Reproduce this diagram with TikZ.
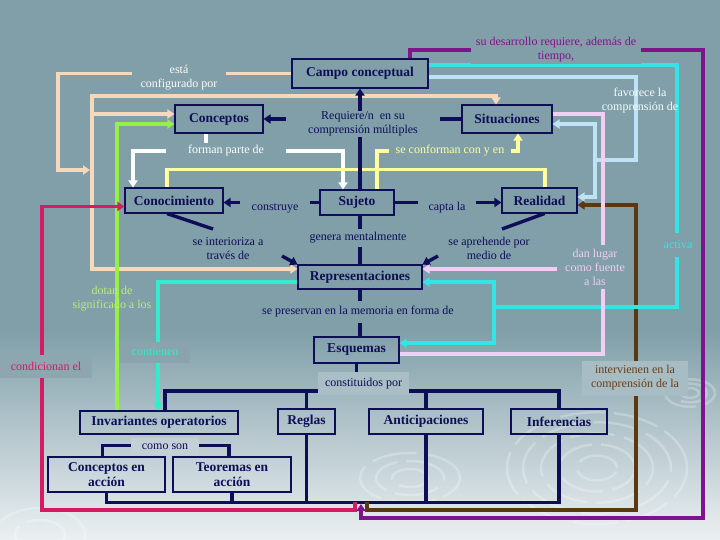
\documentclass[tikz,border=0pt]{standalone}
\usepackage{fontspec}
\setmainfont{Liberation Serif}
\usetikzlibrary{arrows.meta}
\definecolor{bgtop}{RGB}{128,159,169}
\definecolor{bgbot}{RGB}{236,240,242}
\definecolor{navy}{RGB}{14,14,88}
\definecolor{cream}{RGB}{246,216,188}
\definecolor{lgreen}{RGB}{150,240,70}
\definecolor{yel}{RGB}{255,255,160}
\definecolor{purp}{RGB}{125,20,140}
\definecolor{cyanl}{RGB}{50,230,232}
\definecolor{lblue}{RGB}{192,226,246}
\definecolor{pinkl}{RGB}{242,206,242}
\definecolor{brownl}{RGB}{92,56,16}
\definecolor{turq}{RGB}{50,236,204}
\definecolor{crim}{RGB}{214,26,100}
\definecolor{greentxt}{RGB}{184,240,112}
\definecolor{browntxt}{RGB}{104,62,22}
\definecolor{tagA}{RGB}{138,163,172}
\definecolor{tagB}{RGB}{142,166,175}
\definecolor{tagC}{RGB}{170,190,197}
\definecolor{tagD}{RGB}{168,188,195}
\definecolor{tagE}{RGB}{196,208,214}
\begin{document}
\begin{tikzpicture}
  [x=1pt,y=-1pt,>={Triangle[length=7pt,width=9pt]},
   conbox/.style={draw=navy,line width=1.1pt,text=navy,inner sep=0pt,align=center,
     font=\fontsize{13.5}{15}\selectfont\bfseries},
   lbl/.style={inner sep=2pt,align=center,font=\fontsize{12}{14}\selectfont},
   tagbox/.style={lbl,inner sep=0pt,fill=#1},
   wire/.style={line width=3.4pt,draw=#1},
   jn/.style={line cap=rect}]
  % background
  \fill[bgtop] (0,0) rectangle (720,330);
  \shade[top color=bgtop,bottom color=bgbot] (0,330) rectangle (720,540);
  \useasboundingbox (0,0) rectangle (720,540);
  % swirls
  \begin{scope}[white,opacity=.25,line width=2.5pt,dash pattern=on 45pt off 9pt]
    \foreach \r in {20,38,56,74,90}
      \draw (597,468) ellipse ({\r pt} and {0.62*\r pt});
    \foreach \r in {18,34,50}
      \draw (410,478) ellipse ({\r pt} and {0.5*\r pt});
    \foreach \r in {9,17,25}
      \draw (690,393) ellipse ({\r pt} and {0.55*\r pt});
    \foreach \r in {25,45}
      \draw (40,535) ellipse ({\r pt} and {0.6*\r pt});
  \end{scope}

  % concepts
  \node[conbox,minimum width=136pt,minimum height=29pt] (campo) at (360,73.5) {Campo conceptual};
  \node[conbox,minimum width=88pt,minimum height=28pt] (concep) at (219,119) {Conceptos};
  \node[conbox,minimum width=90pt,minimum height=28pt] (situ) at (507,119) {Situaciones};
  \node[conbox,minimum width=98pt,minimum height=25pt] (conoc) at (174,200.5) {Conocimiento};
  \node[conbox,minimum width=74pt,minimum height=25pt] (sujeto) at (357,202.5) {Sujeto};
  \node[conbox,minimum width=75pt,minimum height=25pt] (real) at (539.5,200.5) {Realidad};
  \node[conbox,minimum width=124pt,minimum height=24pt] (repr) at (360,277) {Representaciones};
  \node[conbox,minimum width=85pt,minimum height=26pt] (esq) at (356.5,350) {Esquemas};
  \node[conbox,minimum width=158pt,minimum height=23pt] (invar) at (159,422.5) {Invariantes operatorios};
  \node[conbox,minimum width=57pt,minimum height=25pt] (reglas) at (306.5,421.5) {Reglas};
  \node[conbox,minimum width=114pt,minimum height=25pt] (antic) at (426,421.5) {Anticipaciones};
  \node[conbox,minimum width=96pt,minimum height=25pt] (infer) at (559,421.5) {Inferencias};
  \node[conbox,minimum width=117pt,minimum height=35pt] (cacc) at (106.5,474.5) {Conceptos en\\acción};
  \node[conbox,minimum width=118pt,minimum height=35pt] (tacc) at (232,474.5) {Teoremas en\\acción};

  % cream: configurado por
  \draw[wire=cream,->] (campo.west) -| (58,170) -- (90,170);
  \draw[wire=cream,->,jn] (92,96) |- ([yshift=8pt]repr.west);
  \draw[wire=cream,->,jn] (92,96) -| ([xshift=-11pt]situ.north);
  \draw[wire=cream,->] (92,114) -- ([yshift=5pt]concep.west);
  % green
  \draw[wire=lgreen,->] ([xshift=-42pt]invar.north) |- ([yshift=-5pt]concep.west);
  % white
  \draw[wire=white] ([xshift=-13pt]concep.south) -- (206,151);
  \draw[wire=white,->] (206,151) -| ([xshift=-41pt]conoc.north);
  \draw[wire=white,->] (206,151) -| ([xshift=-14pt]sujeto.north);
  % yellow
  \draw[wire=yel] ([xshift=-7pt]conoc.north) -- ++(0,-18) -| ([xshift=5.5pt]real.north);
  \draw[wire=yel,->] ([xshift=20pt]sujeto.north) |- (518,151) -- ([xshift=11pt]situ.south);
  % navy
  \draw[wire=navy,->] (sujeto.north -| campo.south) -- (campo.south);
  \draw[wire=navy,->] (situ.west) -- (concep.east);
  \draw[wire=navy,->] (sujeto.west) -- (sujeto.west -| conoc.east);
  \draw[wire=navy,->] (sujeto.east) -- (sujeto.east -| real.west);
  \draw[wire=navy] ([xshift=-7pt]conoc.south) -- (213,229);
  \draw[wire=navy,->] (282,256) -- (repr.north west);
  \draw[wire=navy] ([xshift=5pt]real.south) -- (502,229);
  \draw[wire=navy,->] (438,256) -- (repr.north east);
  \draw[wire=navy] (sujeto.south -| repr.north) -- (repr.north);
  \draw[wire=navy] (repr.south) -- (esq.north -| repr.south);
  \draw[wire=navy] (esq.south) -- (esq.south |- 0,391);
  \draw[wire=navy,jn] ([xshift=6pt]invar.north) |- (infer.north |- 0,391) -- (infer.north);
  \draw[wire=navy] (reglas.north) -- (reglas.north |- 0,391);
  \draw[wire=navy] (antic.north) -- (antic.north |- 0,391);
  \draw[wire=navy,jn] ([xshift=-4pt]cacc.north) -- ++(0,-11) -| ([xshift=-3pt]tacc.north);
  \draw[wire=navy,jn] (cacc.south) -- ++(0,10) -| (infer.south);
  \draw[wire=navy] (tacc.south) -- ++(0,10);
  \draw[wire=navy] (reglas.south) -- ++(0,68);
  \draw[wire=navy] (antic.south) -- ++(0,68);
  % crimson
  \coordinate (busC) at (355,502);
  \draw[wire=crim,->] (busC) |- (42,510) |- ([yshift=-6pt]conoc.west);
  % purple
  \draw[wire=purp,->] ([xshift=50pt]campo.north) |- (703,50) |- (361,518) -- (361,504);
  % brown
  \draw[wire=brownl,->] (367,502) |- (636,510) |- ([yshift=-4.5pt]real.east);
  % cyan
  \draw[wire=cyanl] ([yshift=8.5pt]campo.east) -| (677,307) -- (494,307);
  \draw[wire=cyanl,->,jn] (494,307) |- ([yshift=-5pt]repr.east);
  \draw[wire=cyanl,->,jn] (494,307) |- ([yshift=7pt]esq.east);
  % light blue
  \draw[wire=lblue] ([yshift=-3.5pt]campo.east) -| (636,160) -- (595,160);
  \draw[wire=lblue,->,jn] (595,160) |- ([yshift=-5pt]situ.east);
  \draw[wire=lblue,->,jn] (595,160) |- ([yshift=3.5pt]real.east);
  % pink
  \draw[wire=pinkl] ([yshift=5pt]situ.east) -| (603,354) -- ([yshift=-4pt]esq.east);
  \draw[wire=pinkl,->] (557,269) -- ([yshift=8pt]repr.east);
  % turquoise
  \draw[wire=turq,->] ([yshift=-5pt]repr.west) -| ([xshift=-1pt]invar.north);

  % link labels
  \node[lbl,text=white!92!cream,fill=bgtop,inner xsep=9pt] (lconfig) at (179,78) {está\\configurado por};
  \node[lbl,text=navy,fill=bgtop,inner xsep=22pt,inner ysep=1pt] (lreq) at (363,124) {Requiere/n \ en su\\comprensión múltiples};
  \node[lbl,text=white,fill=bgtop,inner xsep=22pt] (lforman) at (226,151) {forman parte de};
  \node[lbl,text=yel,fill=bgtop,inner xsep=7pt] (lconform) at (450,151) {se conforman con y en};
  \node[lbl,text=purp,fill=bgtop,inner xsep=5pt] (ldesarr) at (556,50) {su desarrollo requiere, además de\\tiempo,};
  \node[lbl,text=white!85!lblue] (lfavor) at (640,101) {favorece la\\comprensión de};
  \node[lbl,text=navy,fill=bgtop,inner xsep=12pt] (lconstr) at (275,208) {construye};
  \node[lbl,text=navy,fill=bgtop,inner xsep=11pt] (lcapta) at (447,208) {capta la};
  \node[lbl,text=navy] (linter) at (228,248.5) {se interioriza a\\través de};
  \node[lbl,text=navy,fill=bgtop,inner ysep=4pt] (lgenera) at (358,238) {genera mentalmente};
  \node[lbl,text=navy] (laprehende) at (489,248.5) {se aprehende por\\medio de};
  \node[lbl,text=pinkl,fill=bgtop,inner ysep=4pt] (ldan) at (595,267) {dan lugar\\como fuente\\a las};
  \node[lbl,text=cyanl,fill=bgtop,inner ysep=8pt] (lactiva) at (678,245) {activa};
  \node[lbl,text=greentxt] (ldotan) at (112,298.5) {dotan de\\significado a los};
  \node[lbl,text=navy,fill=bgtop,inner ysep=5pt] (lpreserv) at (358,312) {se preservan en la memoria en forma de};
  \node[tagbox=tagA,text=turq,minimum width=70pt,minimum height=21pt] (lcontien) at (155,352) {contienen};
  \node[tagbox=tagB,text=crim,minimum width=92pt,minimum height=23pt] (lcondic) at (46,366) {condicionan el};
  \node[tagbox=tagC,text=navy,minimum width=91pt,minimum height=23pt] (lconstit) at (363.5,383.5) {constituidos por};
  \node[tagbox=tagD,text=browntxt,minimum width=106pt,minimum height=35pt] (lintervi) at (635,378) {intervienen en la\\comprensión de la};
  \node[tagbox=tagE,text=navy,minimum width=68pt,minimum height=17pt] (lcomo) at (165,446.5) {como son};
\end{tikzpicture}
\end{document}
